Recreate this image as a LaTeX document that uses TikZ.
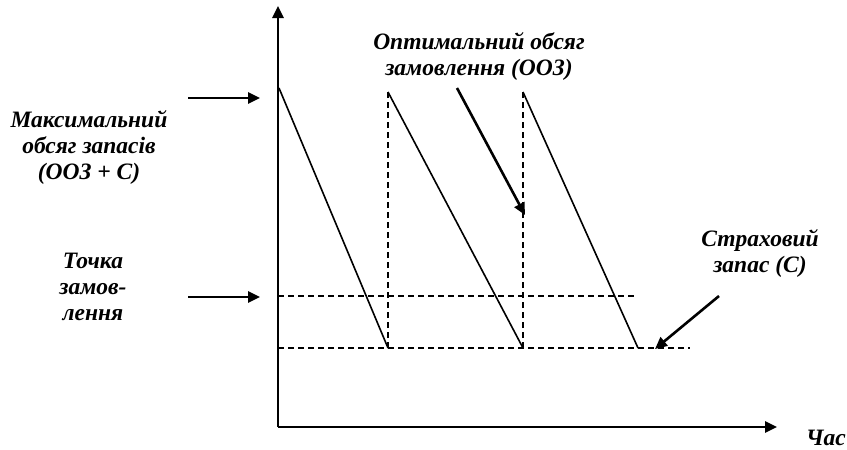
\documentclass[tikz,border=0pt]{standalone}
\usepackage{fontspec}
\setmainfont{Liberation Serif}
\usetikzlibrary{arrows.meta}
\begin{document}
\begin{tikzpicture}[x=1pt,y=-1pt,
  lbl/.style={font=\fontsize{23.5}{26}\selectfont\bfseries\itshape, align=center, inner sep=0pt},
  axis/.style={line width=2.6pt, -{Triangle[length=12pt,width=11pt]}},
  saw/.style={line width=1.6pt},
  dsh/.style={line width=1.2pt, dash pattern=on 6pt off 4pt},
  pointer/.style={line width=2.6pt, -{Triangle[length=12pt,width=11pt]}}]
\useasboundingbox (0,0) rectangle (847,450);
% axes
\coordinate (O) at (278,427);
\coordinate (ytop) at (278,6);
\coordinate (xend) at (777,427);
\draw[axis] (O) -- (ytop);
\draw[axis] (O) -- (xend);
% key points
\coordinate (m1) at (279,88);
\coordinate (b1) at (388,348);
\coordinate (t2) at (388,92);
\coordinate (b2) at (523,348);
\coordinate (t3) at (523,92);
\coordinate (b3) at (638,348);
\coordinate (r0) at (278,296);
\coordinate (r1) at (637,296);
\coordinate (s0) at (278,348);
\coordinate (s1) at (690,348);
% sawtooth
\draw[saw] (m1) -- (b1);
\draw[saw] (t2) -- (b2);
\draw[saw] (t3) -- (b3);
\draw[dsh] (b1) -- (t2);
\draw[dsh] (b2) -- (t3);
\draw[dsh] (r0) -- (r1);
\draw[dsh] (s0) -- (s1);
% labels
\node[lbl] (maxl) at (89,148) {Максимальний\\обсяг запасів\\(ООЗ + С)};
\node[lbl] (tochka) at (93,287) {Точка\\замов-\\лення};
\node[lbl] (ooz) at (479,57) {Оптимальний обсяг\\замовлення (ООЗ)};
\node[lbl] (strah) at (760,254) {Страховий\\запас (С)};
\node[lbl, anchor=base] (chas) at (826,445) {Час};
% pointer arrows
\coordinate (a1s) at (188,98);
\coordinate (a1e) at (260,98);
\coordinate (a2s) at (188,297);
\coordinate (a2e) at (260,297);
\coordinate (a3s) at (457,88);
\coordinate (a3e) at (525,215);
\coordinate (a4s) at (719,296);
\coordinate (a4e) at (655,349);
\draw[pointer] (a1s) -- (a1e);
\draw[pointer] (a2s) -- (a2e);
\draw[pointer] (a3s) -- (a3e);
\draw[pointer] (a4s) -- (a4e);
\end{tikzpicture}
\end{document}
